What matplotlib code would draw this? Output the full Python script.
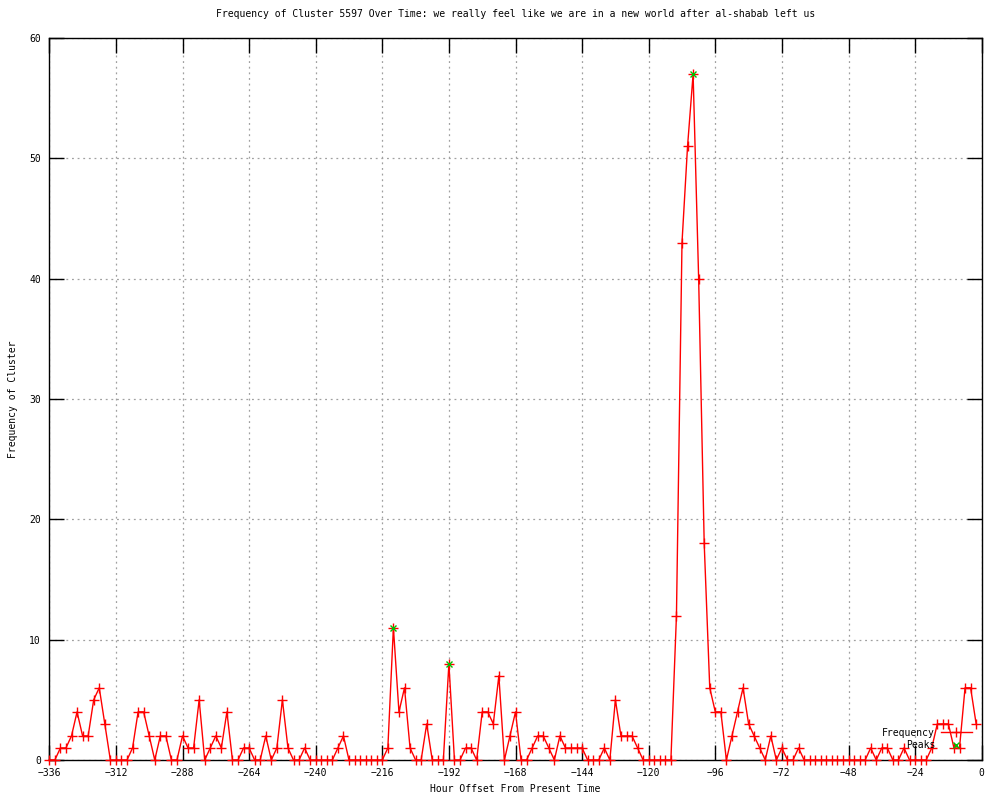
import numpy as np
import matplotlib
matplotlib.use("Agg")
import matplotlib.pyplot as plt

# Data: hour offsets every 2 hours from -336 to -2
hours = list(range(-336, 0, 2))
frequency = [
    0, 0, 1, 1, 2, 4, 2, 2, 5, 6, 3, 0,
    0, 0, 0, 1, 4, 4, 2, 0, 2, 2, 0, 0,
    2, 1, 1, 5, 0, 1, 2, 1, 4, 0, 0, 1,
    1, 0, 0, 2, 0, 1, 5, 1, 0, 0, 1, 0,
    0, 0, 0, 0, 1, 2, 0, 0, 0, 0, 0, 0,
    0, 1, 11, 4, 6, 1, 0, 0, 3, 0, 0, 0,
    8, 0, 0, 1, 1, 0, 4, 4, 3, 7, 0, 2,
    4, 0, 0, 1, 2, 2, 1, 0, 2, 1, 1, 1,
    1, 0, 0, 0, 1, 0, 5, 2, 2, 2, 1, 0,
    0, 0, 0, 0, 0, 12, 43, 51, 57, 40, 18, 6,
    4, 4, 0, 2, 4, 6, 3, 2, 1, 0, 2, 0,
    1, 0, 0, 1, 0, 0, 0, 0, 0, 0, 0, 0,
    0, 0, 0, 0, 1, 0, 1, 1, 0, 0, 1, 0,
    0, 0, 0, 1, 3, 3, 3, 1, 1, 6, 6, 3,
]
peak_hours = [-212, -192, -104]
peak_values = [11, 8, 57]

title = "Frequency of Cluster 5597 Over Time: we really feel like we are in a new world after al-shabab left us"
xlabel = "Hour Offset From Present Time"
ylabel = "Frequency of Cluster"
xticks = list(range(-336, 1, 24))
yticks = list(range(0, 61, 10))

plt.rcParams['font.family'] = ['DejaVu Sans Mono']
fs = 7

fig = plt.figure(figsize=(10, 8), dpi=100)
ax = fig.add_axes([0.0493, 0.05, 0.9324, 0.9025])

ax.plot(hours, frequency, color='red', lw=1.0, marker='+', ms=7, mew=1.0,
        clip_on=False, zorder=3, label='Frequency')
ax.plot(peak_hours, peak_values, ls='none', color='#00c000', marker='x', ms=5,
        mew=1.0, clip_on=False, zorder=4, label='Peaks')

ax.set_xlim(-336, 0)
ax.set_ylim(0, 60)
ax.set_xticks(xticks)
ax.set_yticks(yticks)
ax.tick_params(direction='in', length=11, width=1, top=True, right=True,
               labelsize=fs, pad=6)
ax.grid(True, color='#a0a0a0', linestyle=(0, (1.5, 3)), linewidth=0.9)
ax.set_axisbelow(True)
for s in ax.spines.values():
    s.set_linewidth(1.0)

ax.set_title(title, fontsize=fs, pad=15)
ax.set_xlabel(xlabel, fontsize=fs, labelpad=4)
ax.set_ylabel(ylabel, fontsize=fs, labelpad=8)

leg = ax.legend(loc='lower right', bbox_to_anchor=(1.0, 0.0), frameon=False,
                markerfirst=False, fontsize=fs, handlelength=3.2,
                handletextpad=0.6, labelspacing=0.25, borderaxespad=0.6)
for t in leg.get_texts():
    t.set_ha('right')

fig.savefig('out.png', dpi=100)
